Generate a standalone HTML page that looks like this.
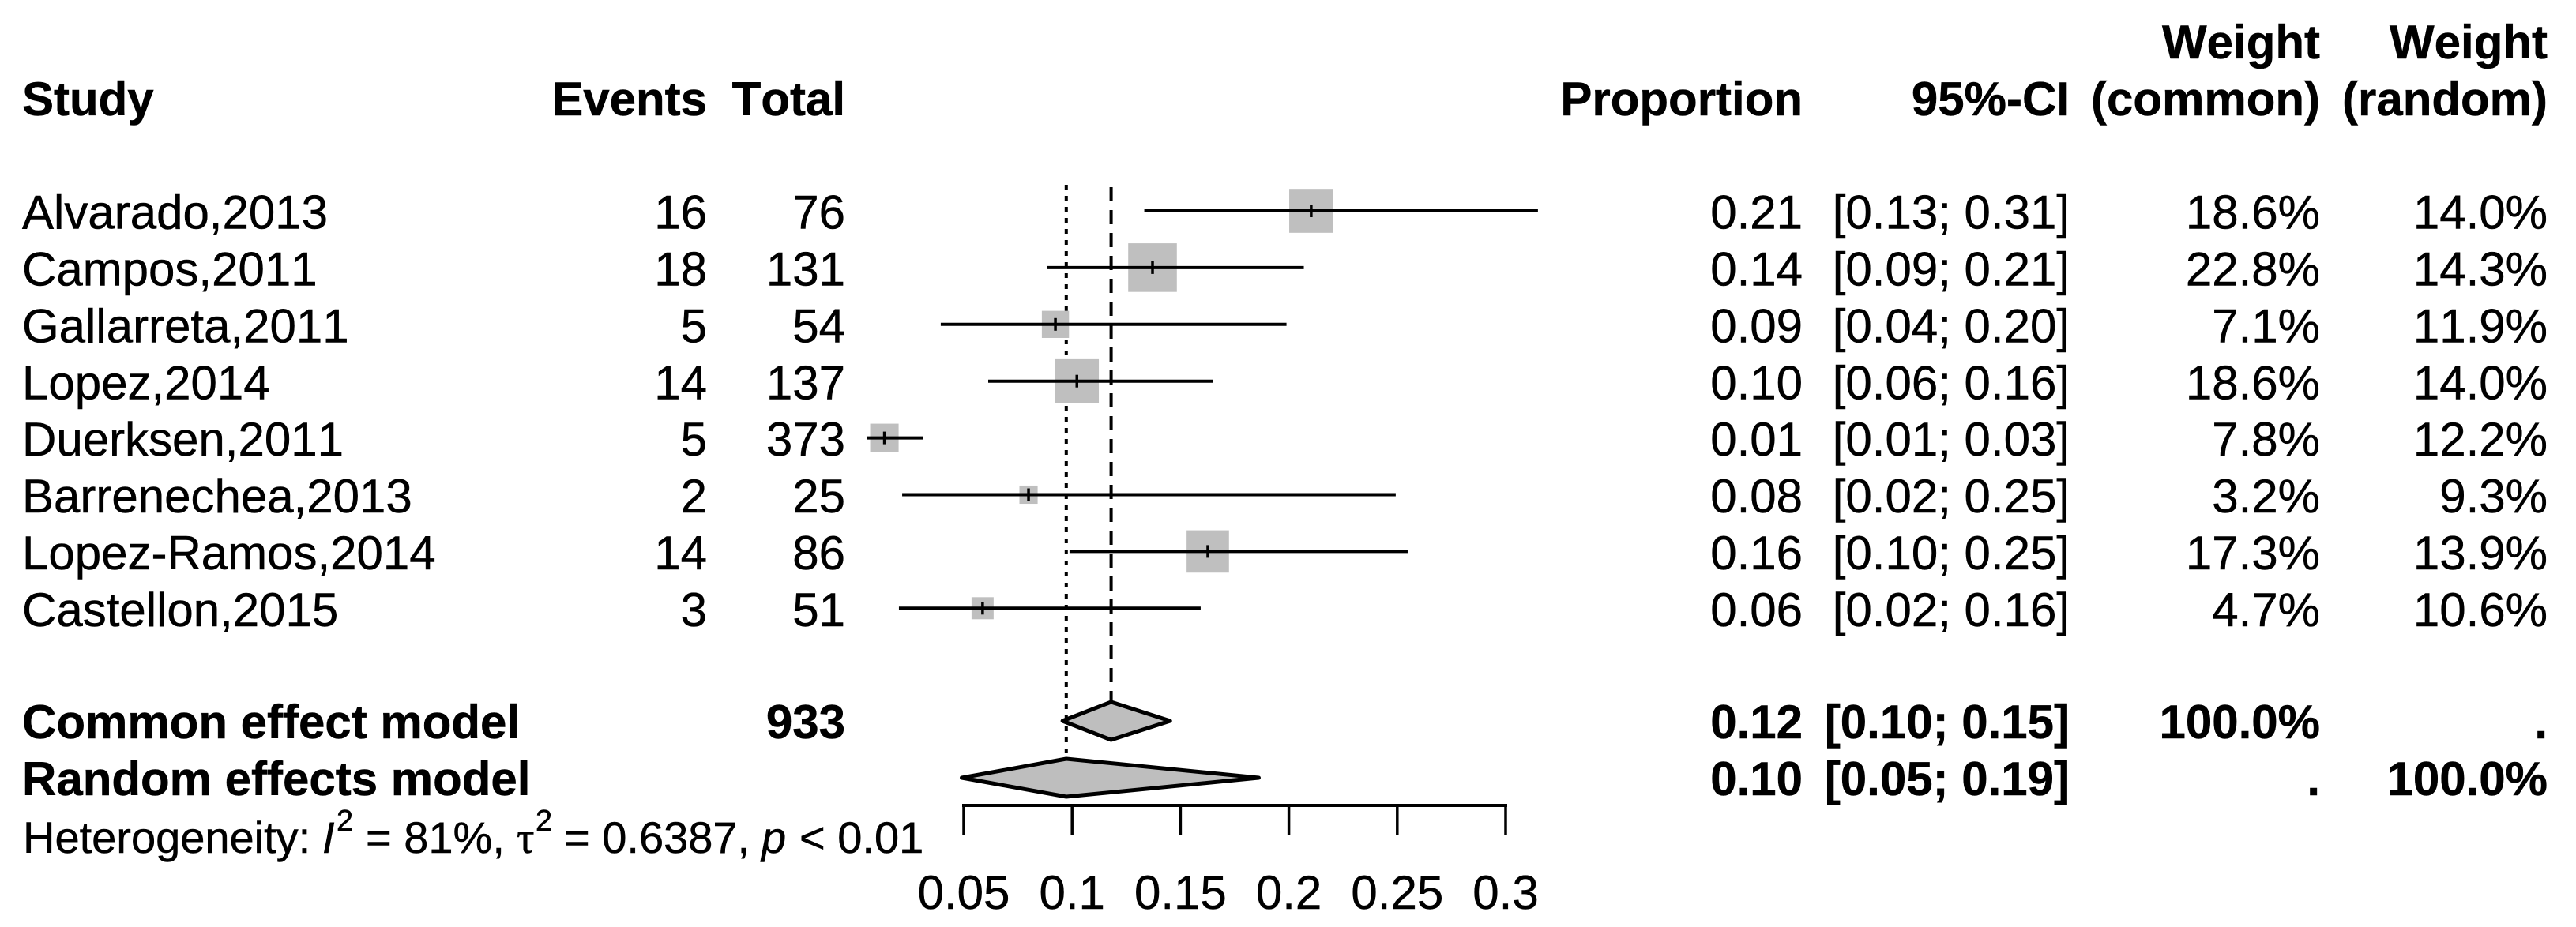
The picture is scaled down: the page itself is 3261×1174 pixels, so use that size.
<!DOCTYPE html>
<html lang="en">
<head>
<meta charset="utf-8">
<title>Forest plot of proportions</title>
<style>
html,body{margin:0;padding:0;background:#fff;}
svg{display:block;}
text{font-family:"Liberation Sans",sans-serif;font-size:60px;fill:#000;stroke:#000;stroke-width:.5px;font-kerning:none;}
.b{font-weight:bold;}
.e{text-anchor:end;}
</style>
</head>
<body>
<svg id="chart" xmlns="http://www.w3.org/2000/svg" width="3261" height="1174" viewBox="0 0 3261 1174">
  <rect x="0" y="0" width="3261" height="1174" fill="#fff"/>
  <g id="headers">
    <text class="b" x="28" y="146">Study</text>
    <text class="b e" x="895" y="146">Events</text>
    <text class="b e" x="1070" y="146">Total</text>
    <text class="b e" x="2282" y="146">Proportion</text>
    <text class="b e" x="2620" y="146">95%-CI</text>
    <text class="b e" x="2937" y="74">Weight</text>
    <text class="b e" x="2937" y="146">(common)</text>
    <text class="b e" x="3225" y="74">Weight</text>
    <text class="b e" x="3225" y="146">(random)</text>
  </g>
  <g id="refLines"></g>
  <g id="marks"></g>
  <g id="rows"></g>
  <g id="summary"></g>
  <g id="axis"></g>
  <text y="1080" style="font-size:56px">
    <tspan x="29">Heterogeneity:</tspan>
    <tspan x="408" font-style="italic">I</tspan>
    <tspan x="426" y="1052" style="font-size:38px">2</tspan>
    <tspan x="463" y="1080">= 81%,</tspan>
    <tspan x="654" style="font-family:'Liberation Serif',serif">τ</tspan>
    <tspan x="678" y="1052" style="font-size:38px">2</tspan>
    <tspan x="714" y="1080">= 0.6387,</tspan>
    <tspan x="964" font-style="italic">p</tspan>
    <tspan x="1012">&lt; 0.01</tspan>
  </text>
</svg>
<script>
const studies = ["Alvarado,2013","Campos,2011","Gallarreta,2011","Lopez,2014","Duerksen,2011","Barrenechea,2013","Lopez-Ramos,2014","Castellon,2015"];
const events = [16,18,5,14,5,2,14,3];
const totals = [76,131,54,137,373,25,86,51];
const proportions = [0.2103,0.1371,0.0923,0.1022,0.0134,0.0799,0.1626,0.0587];
const ciLower = [0.1333,0.0885,0.0394,0.0613,0.0052,0.0216,0.0988,0.0201];
const ciUpper = [0.3149,0.2069,0.1989,0.1648,0.0314,0.2493,0.2548,0.1593];
const proportionLabels = ["0.21","0.14","0.09","0.10","0.01","0.08","0.16","0.06"];
const ciLabels = ["[0.13; 0.31]","[0.09; 0.21]","[0.04; 0.20]","[0.06; 0.16]","[0.01; 0.03]","[0.02; 0.25]","[0.10; 0.25]","[0.02; 0.16]"];
const weightCommon = [18.6,22.8,7.1,18.6,7.8,3.2,17.3,4.7];
const weightRandom = [14.0,14.3,11.9,14.0,12.2,9.3,13.9,10.6];

const commonEffect = 0.118;
const commonLower = 0.0956;
const commonUpper = 0.1452;
const randomEffect = 0.0973;
const randomLower = 0.0491;
const randomUpper = 0.1861;

const axisTicks = [0.05,0.1,0.15,0.2,0.25,0.3];
const axisTickLabels = ["0.05","0.1","0.15","0.2","0.25","0.3"];

const SVGNS = "http://www.w3.org/2000/svg";
const xScale = v => 1220 + (v - 0.05) / 0.25 * 686;
const rowCenter = i => 267 + 71.9 * i;
const boxSize = w => 12.9 * Math.sqrt(w);

function make(parent, tag, attrs) {
  const el = document.createElementNS(SVGNS, tag);
  for (const k in attrs) el.setAttribute(k, attrs[k]);
  parent.appendChild(el);
  return el;
}
function label(parent, name, str, x, y, cls) {
  const el = make(parent, "text", {x: x, y: y, class: cls || ""});
  
  
  el.textContent = str;
  return el;
}
function line(parent, name, x1, y1, x2, y2, width, dash) {
  const el = make(parent, "line", {x1: x1, y1: y1, x2: x2, y2: y2, stroke: "#000", "stroke-width": width});
  if (dash) el.setAttribute("stroke-dasharray", dash);
  
  
  return el;
}
function diamond(parent, name, lo, mid, hi, cy) {
  const pts = [[xScale(lo),cy],[xScale(mid),cy-24],[xScale(hi),cy],[xScale(mid),cy+24]].map(p => p.join(",")).join(" ");
  const el = make(parent, "polygon", {points: pts, fill: "#bebebe", stroke: "#000", "stroke-width": 5, "stroke-linejoin": "round"});
  
  
  return el;
}

const refG = document.getElementById("refLines");
const marksG = document.getElementById("marks");
const rowsG = document.getElementById("rows");
const sumG = document.getElementById("summary");
const axisG = document.getElementById("axis");

const commonRowY = 913;
const randomRowY = 985;

line(refG, "common-effect-reference-line", xScale(commonEffect), 237, xScale(commonEffect), commonRowY - 24, 4, "18 11");
line(refG, "random-effects-reference-line", xScale(randomEffect), 234, xScale(randomEffect), randomRowY - 24, 4, "6 8");

studies.forEach((s, i) => {
  const cy = rowCenter(i);
  const base = cy + 22.6;
  const slug = s.toLowerCase().replace(/[^a-z0-9]+/g, "-");
  const size = boxSize(weightCommon[i]);
  const box = make(marksG, "rect", {x: xScale(proportions[i]) - size / 2, y: cy - size / 2, width: size, height: size, fill: "#bfbfbf"});
  
  
  line(marksG, "ci-line-" + slug, xScale(ciLower[i]), cy, xScale(ciUpper[i]), cy, 4);
  line(marksG, "estimate-tick-" + slug, xScale(proportions[i]), cy - 8, xScale(proportions[i]), cy + 8, 3.5);
  label(rowsG, "study-name-" + slug, s, 28, base);
  label(rowsG, "events-" + slug, String(events[i]), 895, base, "e");
  label(rowsG, "total-" + slug, String(totals[i]), 1070, base, "e");
  label(rowsG, "proportion-" + slug, proportionLabels[i], 2282, base, "e");
  label(rowsG, "ci-" + slug, ciLabels[i], 2620, base, "e");
  label(rowsG, "weight-common-" + slug, weightCommon[i].toFixed(1) + "%", 2937, base, "e");
  label(rowsG, "weight-random-" + slug, weightRandom[i].toFixed(1) + "%", 3225, base, "e");
});

label(sumG, "common-effect-label", "Common effect model", 28, 935, "b");
label(sumG, "common-effect-total", "933", 1070, 935, "b e");
label(sumG, "common-effect-proportion", "0.12", 2282, 935, "b e");
label(sumG, "common-effect-ci", "[0.10; 0.15]", 2620, 935, "b e");
label(sumG, "common-effect-weight-common", "100.0%", 2937, 935, "b e");
label(sumG, "common-effect-weight-random", ".", 3225, 935, "b e");
label(sumG, "random-effects-label", "Random effects model", 28, 1007, "b");
label(sumG, "random-effects-proportion", "0.10", 2282, 1007, "b e");
label(sumG, "random-effects-ci", "[0.05; 0.19]", 2620, 1007, "b e");
label(sumG, "random-effects-weight-common", ".", 2937, 1007, "b e");
label(sumG, "random-effects-weight-random", "100.0%", 3225, 1007, "b e");
diamond(sumG, "common-effect-diamond", commonLower, commonEffect, commonUpper, commonRowY);
diamond(sumG, "random-effects-diamond", randomLower, randomEffect, randomUpper, randomRowY);

line(axisG, "x-axis-line", xScale(axisTicks[0]) - 2, 1020, xScale(axisTicks[axisTicks.length - 1]) + 2, 1020, 4);
axisTicks.forEach((t, i) => {
  line(axisG, "x-tick-" + axisTickLabels[i], xScale(t), 1020, xScale(t), 1057, 3.5);
  const tl = label(axisG, "x-tick-label-" + axisTickLabels[i], axisTickLabels[i], xScale(t), 1151);
  tl.setAttribute("text-anchor", "middle");
});
</script>
</body>
</html>
